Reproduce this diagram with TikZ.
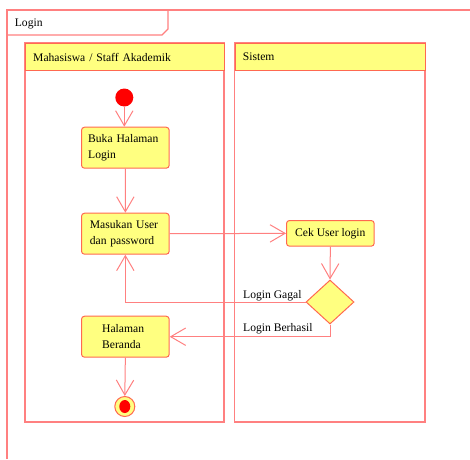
\documentclass[tikz,border=0pt]{standalone}
\usepackage{fontspec}
\setmainfont{Liberation Serif}
\usetikzlibrary{arrows.meta,shapes.geometric}
\definecolor{lr}{RGB}{255,128,128}
\definecolor{br}{RGB}{255,105,80}
\definecolor{yl}{RGB}{255,255,128}
\begin{document}
\begin{tikzpicture}[x=1pt,y=-1pt,
  font=\fontsize{11.6}{15.5}\selectfont,
  frame/.style={draw=lr, line width=1.3pt},
  lane/.style={draw=lr, line width=1.3pt},
  lanehead/.style={draw=br, fill=yl, line width=1pt, anchor=north west, minimum height=27pt, inner xsep=7.7pt, inner ysep=0pt, align=left},
  act/.style={draw=br, fill=yl, rounded corners=3pt, line width=1pt, minimum width=87.7pt, minimum height=41pt, inner ysep=0pt, anchor=north west, align=left},
  flow/.style={draw=lr, line width=1pt, -{Straight Barb[length=15pt,width=17.4pt,line width=1pt]}},
  lbl/.style={anchor=base west, inner sep=0pt}
]
\useasboundingbox (0,0) rectangle (470,459);
% outer frame
\draw[frame] (7,459) -- (7,10) -- (470,10);
\draw[frame] (7,35) -- (162,35) -- (168,29) -- (168,10);
\node[lbl] (title) at (14.7,26.7) {Login};
% swimlanes
\draw[lane] (25,43) rectangle (224,422);
\draw[lane] (234.7,43) rectangle (425,422);
\node[lanehead, minimum width=199pt, text width=183.6pt] (lane1) at (25,43) {Mahasiswa / Staff Akademik};
\node[lanehead, minimum width=190.3pt, text width=174.9pt] (lane2) at (234.7,43) {Sistem};
% nodes
\node[circle, fill=red, minimum width=17pt, minimum height=18pt, inner sep=0pt] (start) at (124.3,97.5) {};
\node[act, inner xsep=6.7pt, text width=74.3pt] (buka) at (81,126.7) {Buka Halaman\\Login};
\node[act, inner xsep=8.3pt, text width=71.1pt] (masuk) at (81,212.7) {Masukan User\\dan password};
\node[act, minimum height=25.7pt, align=center] (cek) at (286,220) {Cek User login};
\node[diamond, draw=br, fill=yl, line width=1pt, minimum width=48pt, minimum height=44pt, inner sep=0pt] (dec) at (330,302) {};
\node[act, inner xsep=20.7pt, text width=46.3pt] (beranda) at (81,315.7) {Halaman\\Beranda};
\node[circle, draw=br, fill=yl, line width=1pt, minimum width=19pt, minimum height=20pt, inner sep=0pt] (end) at (124.8,406.5) {};
\fill[red] (end.center) ellipse (5.5pt and 6.5pt);
% connectors
\draw[flow] (start.south) -- (start.south |- buka.north);
\draw[flow] (buka.south) -- (masuk.north);
\draw[flow] (masuk.east) -- (cek.west);
\draw[flow] (cek.south) -- (dec.north);
\draw[flow] (dec.west) -| (masuk.south);
\draw[flow] (dec.south) |- (beranda.east);
\draw[flow] (beranda.south) -- (end.north);
\node[lbl] (gagal) at (243,298) {Login Gagal};
\node[lbl] (berhasil) at (243,331) {Login Berhasil};
\end{tikzpicture}
\end{document}
